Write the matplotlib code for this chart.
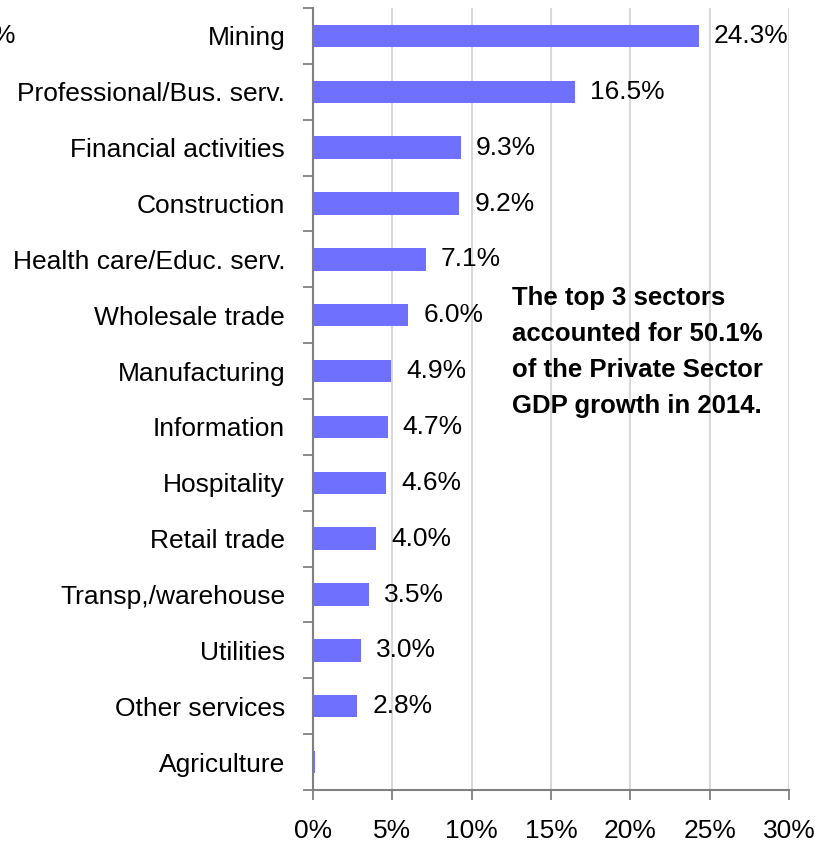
import matplotlib as mpl
mpl.use('Agg')
import matplotlib.pyplot as plt

sectors = ['Mining', 'Professional/Bus. serv.', 'Financial activities', 'Construction',
           'Health care/Educ. serv.', 'Wholesale trade', 'Manufacturing', 'Information',
           'Hospitality', 'Retail trade', 'Transp,/warehouse', 'Utilities',
           'Other services', 'Agriculture']
shares = [24.3, 16.5, 9.3, 9.2, 7.1, 6.0, 4.9, 4.7, 4.6, 4.0, 3.5, 3.0, 2.8, 0.1]
labels = ['24.3%', '16.5%', '9.3%', '9.2%', '7.1%', '6.0%', '4.9%', '4.7%',
          '4.6%', '4.0%', '3.5%', '3.0%', '2.8%', '']
xticks = [0, 5, 10, 15, 20, 25, 30]
note = 'The top 3 sectors\naccounted for 50.1%\nof the Private Sector\nGDP growth in 2014.'

plt.rcParams['font.family'] = ['Liberation Sans', 'DejaVu Sans']

W, H = 827, 843
fig = plt.figure(figsize=(W / 100, H / 100), dpi=100)
ax = fig.add_axes([313 / W, (H - 790) / H, 476 / W, 782 / H])

n = len(sectors)
pos = list(range(n))
ax.barh(pos, shares, height=0.4, color='#7070ff', zorder=3)
for p, v, lab in zip(pos, shares, labels):
    if lab:
        ax.annotate(lab, (v, p), xytext=(11, 0), textcoords='offset points',
                    va='center', ha='left', fontsize=19)

ax.set_ylim(n - 0.5, -0.5)
ax.set_xlim(0, 30)
ax.set_yticks(pos)
ax.set_yticklabels(sectors, fontsize=19)
ax.set_yticks([i - 0.5 for i in range(n + 1)], minor=True)
ax.tick_params(axis='y', which='major', length=0, pad=20)
ax.tick_params(axis='y', which='minor', length=7, color='#808080', width=1.3)
ax.set_xticks(xticks)
ax.set_xticklabels([f'{t}%' for t in xticks], fontsize=19)
ax.tick_params(axis='x', length=7, color='#808080', width=1.3, pad=14)
ax.grid(axis='x', color='#d9d9d9', linewidth=1.5, zorder=0)

for s in ['top', 'right']:
    ax.spines[s].set_visible(False)
for s in ['left', 'bottom']:
    ax.spines[s].set_color('#808080')
    ax.spines[s].set_linewidth(1.5)

fig.text(512 / W, 1 - 286 / H, note, fontsize=18.5, fontweight='bold',
         va='top', ha='left', linespacing=1.64)
fig.text(15 / W, 1 - 36 / H, '%', fontsize=19, ha='right', va='center')

plt.savefig('out.png', dpi=100)
